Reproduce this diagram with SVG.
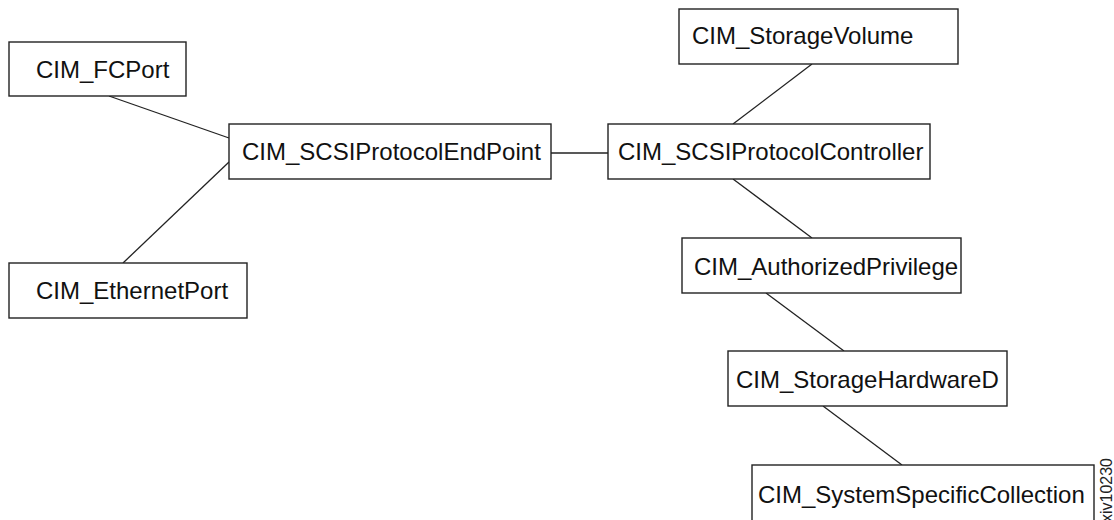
<svg xmlns="http://www.w3.org/2000/svg" width="1114" height="520" viewBox="0 0 1114 520">
  <style>
    .box { fill: #ffffff; stroke: #222222; stroke-width: 1.4; }
    .lbl { font-family: "Liberation Sans", Arial, sans-serif; font-size: 24px; fill: #111111; }
    .link { stroke: #222222; stroke-width: 1.3; fill: none; }
    .tag { font-family: "Liberation Sans", Arial, sans-serif; font-size: 16px; fill: #222222; }
  </style>
  <rect width="1114" height="520" fill="#ffffff"/>

  <!-- associations between the CIM classes -->
  <g id="connectors">
    <line class="link" x1="109" y1="96" x2="229" y2="138"/>
    <line class="link" x1="123" y1="263" x2="229" y2="162"/>
    <line class="link" x1="551" y1="153" x2="608" y2="153"/>
    <line class="link" x1="812" y1="64" x2="733" y2="124"/>
    <line class="link" x1="733" y1="179" x2="812" y2="238"/>
    <line class="link" x1="766" y1="293" x2="844" y2="351"/>
    <line class="link" x1="823" y1="406" x2="902" y2="465"/>
  </g>

  <g id="fcport">
    <rect class="box" x="9" y="42" width="177" height="54"/>
    <text class="lbl" x="36" y="78">CIM_FCPort</text>
  </g>

  <g id="ethernetport">
    <rect class="box" x="9" y="263" width="238" height="55"/>
    <text class="lbl" x="36" y="299">CIM_EthernetPort</text>
  </g>

  <g id="scsi-endpoint">
    <rect class="box" x="229" y="124" width="322" height="55"/>
    <text class="lbl" x="242" y="160">CIM_SCSIProtocolEndPoint</text>
  </g>

  <g id="scsi-controller">
    <rect class="box" x="608" y="124" width="322" height="55"/>
    <text class="lbl" x="618" y="160">CIM_SCSIProtocolController</text>
  </g>

  <g id="storage-volume">
    <rect class="box" x="679" y="9" width="279" height="55"/>
    <text class="lbl" x="692" y="44">CIM_StorageVolume</text>
  </g>

  <g id="authorized-privilege">
    <rect class="box" x="682" y="238" width="279" height="55"/>
    <text class="lbl" x="694" y="275">CIM_AuthorizedPrivilege</text>
  </g>

  <g id="storage-hardware">
    <rect class="box" x="728" y="351" width="279" height="55"/>
    <text class="lbl" x="736" y="388">CIM_StorageHardwareD</text>
  </g>

  <g id="system-collection">
    <rect class="box" x="752" y="465" width="342" height="60"/>
    <text class="lbl" x="758" y="503">CIM_SystemSpecificCollection</text>
  </g>

  <!-- figure identifier, running up the right margin -->
  <text class="tag" transform="translate(1112 458) rotate(-90)" text-anchor="end">xiv10230</text>
</svg>
